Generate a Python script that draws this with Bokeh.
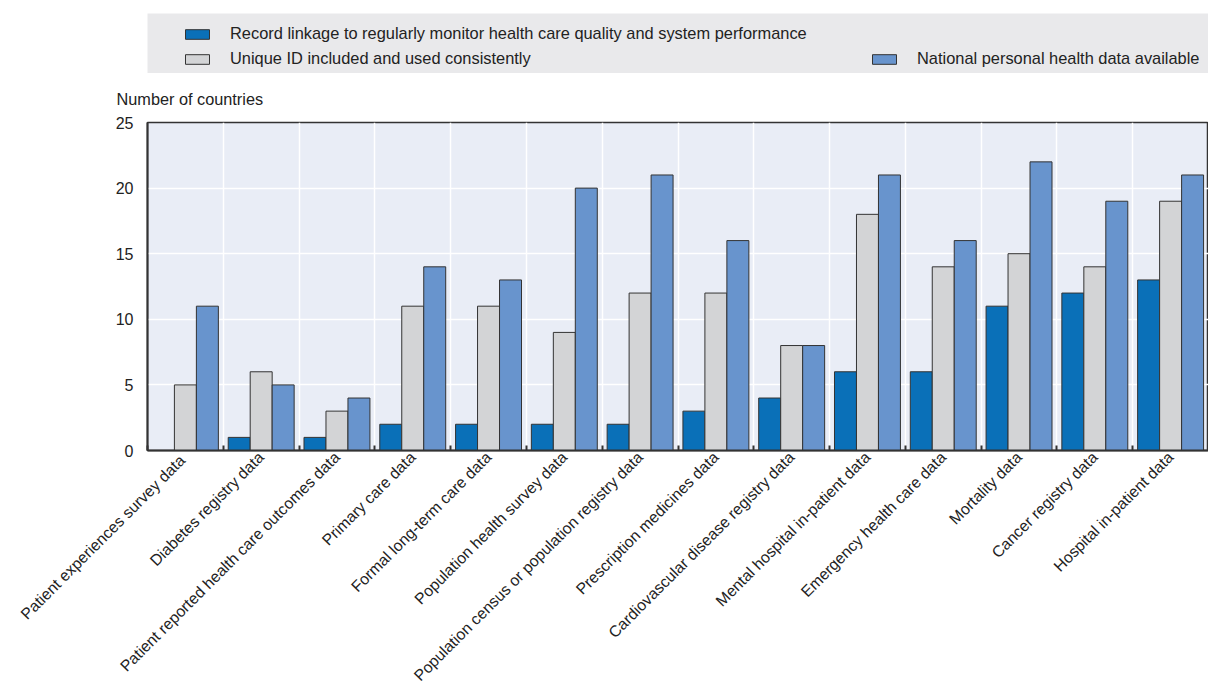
import math
from bokeh.plotting import figure
from bokeh.layouts import column
from bokeh.models import (ColumnDataSource, FixedTicker, Legend, LegendItem, Title)
from bokeh.transform import dodge
from bokeh.embed import file_html
from bokeh.resources import INLINE

categories = [
    "Patient experiences  survey data",
    "Diabetes registry data",
    "Patient reported health care outcomes data",
    "Primary care data",
    "Formal long-term care data",
    "Population health survey data",
    "Population census or population registry data",
    "Prescription medicines data",
    "Cardiovascular disease registry data",
    "Mental hospital in-patient data",
    "Emergency health care data",
    "Mortality data",
    "Cancer registry data",
    "Hospital in-patient data",
]
record_linkage = [0, 1, 1, 2, 2, 2, 2, 3, 4, 6, 6, 11, 12, 13]
unique_id = [5, 6, 3, 11, 11, 9, 12, 12, 8, 18, 14, 15, 14, 19]
national_data = [11, 5, 4, 14, 13, 20, 21, 16, 8, 21, 16, 22, 19, 21]
y_ticks = [0, 5, 10, 15, 20, 25]

series_names = [
    "Record linkage to regularly monitor health care quality and system performance",
    "Unique ID included and used consistently",
    "National personal health data available",
]
colors = ["#0a70b8", "#d3d4d6", "#6894cd"]
FONT = "Liberation Sans"
TXT = "#222222"
EDGE = "#333333"

n = len(categories)
centers = [i + 0.5 for i in range(n)]
bounds = list(range(n + 1))

src = ColumnDataSource(dict(x=centers, rl=record_linkage, uid=unique_id, nat=national_data))

# ---------------- main chart ----------------
p = figure(width=1208, height=621, output_backend="svg", toolbar_location=None,
           x_range=(0, n), y_range=(0, 25),
           min_border_left=146, min_border_right=0, min_border_top=49, min_border_bottom=244)
p.background_fill_color = "#e9edf6"
p.border_fill_color = "white"
p.outline_line_color = EDGE
p.outline_line_width = 1.5

bw = 0.29
r1 = p.vbar(x=dodge("x", -bw, range=p.x_range), top="rl", width=bw, source=src,
            fill_color=colors[0], line_color=EDGE, line_width=1)
r2 = p.vbar(x=dodge("x", 0, range=p.x_range), top="uid", width=bw, source=src,
            fill_color=colors[1], line_color=EDGE, line_width=1)
r3 = p.vbar(x=dodge("x", bw, range=p.x_range), top="nat", width=bw, source=src,
            fill_color=colors[2], line_color=EDGE, line_width=1)

p.xaxis.ticker = FixedTicker(ticks=centers, minor_ticks=bounds)
p.xaxis.major_label_overrides = {c: lab for c, lab in zip(centers, categories)}
p.xaxis.major_label_orientation = math.pi / 4
p.xaxis.major_tick_in = 0
p.xaxis.major_tick_out = 0
p.xaxis.minor_tick_in = 5
p.xaxis.minor_tick_out = 0
p.xaxis.minor_tick_line_color = EDGE
p.xaxis.minor_tick_line_width = 2
p.xaxis.axis_line_color = EDGE
p.xaxis.axis_line_width = 2
p.xaxis.major_label_text_font = FONT
p.xaxis.major_label_text_font_size = "15.8px"
p.xaxis.major_label_text_color = TXT
p.xaxis.major_label_standoff = 4

p.yaxis.ticker = FixedTicker(ticks=y_ticks)
p.yaxis.major_tick_in = 0
p.yaxis.major_tick_out = 0
p.yaxis.minor_tick_line_color = None
p.yaxis.axis_line_color = EDGE
p.yaxis.axis_line_width = 2
p.yaxis.major_label_text_font = FONT
p.yaxis.major_label_text_font_size = "16px"
p.yaxis.major_label_text_color = TXT
p.yaxis.major_label_standoff = 14

p.xgrid.ticker = FixedTicker(ticks=bounds)
p.xgrid.grid_line_color = "white"
p.xgrid.grid_line_width = 1.5
p.ygrid.grid_line_color = "white"
p.ygrid.grid_line_width = 1.5

ttl = Title(text="Number of countries", align="left", offset=-31, standoff=29,
            text_font=FONT, text_font_size="16.3px", text_color=TXT,
            text_font_style="normal")
p.add_layout(ttl, "above")

# ---------------- legend band ----------------
lf = figure(width=1208, height=73, output_backend="svg", toolbar_location=None,
            x_range=(0, 1), y_range=(0, 1), x_axis_location=None, y_axis_location=None,
            min_border_left=147, min_border_right=0, min_border_top=13, min_border_bottom=0)
lf.background_fill_color = "#e9e9eb"
lf.border_fill_color = "white"
lf.outline_line_color = None
lf.grid.visible = False

# legend swatches: bars placed outside the visible range, used only for their styling
swatch = ColumnDataSource(dict(x=[50], top=[1]))
g1 = lf.vbar(x="x", top="top", width=0.1, source=swatch, fill_color=colors[0], line_color=EDGE, line_width=1)
g2 = lf.vbar(x="x", top="top", width=0.1, source=swatch, fill_color=colors[1], line_color=EDGE, line_width=1)
g3 = lf.vbar(x="x", top="top", width=0.1, source=swatch, fill_color=colors[2], line_color=EDGE, line_width=1)


def mk_legend(items, loc):
    return Legend(items=items, location=loc, orientation="vertical",
                  glyph_width=30, glyph_height=12, label_height=19, label_standoff=18,
                  padding=0, margin=0, spacing=6,
                  label_text_font=FONT, label_text_font_size="16.4px",
                  label_text_color=TXT, background_fill_alpha=0,
                  border_line_color=None)


leg1 = mk_legend([LegendItem(label=series_names[0], renderers=[g1]),
                  LegendItem(label=series_names[1], renderers=[g2])], (35, 5))
leg2 = mk_legend([LegendItem(label=series_names[2], renderers=[g3])], (722, 5))
lf.add_layout(leg1)
lf.add_layout(leg2)

layout = column(lf, p, spacing=0)
open("out.html", "w").write(file_html(layout, INLINE))
